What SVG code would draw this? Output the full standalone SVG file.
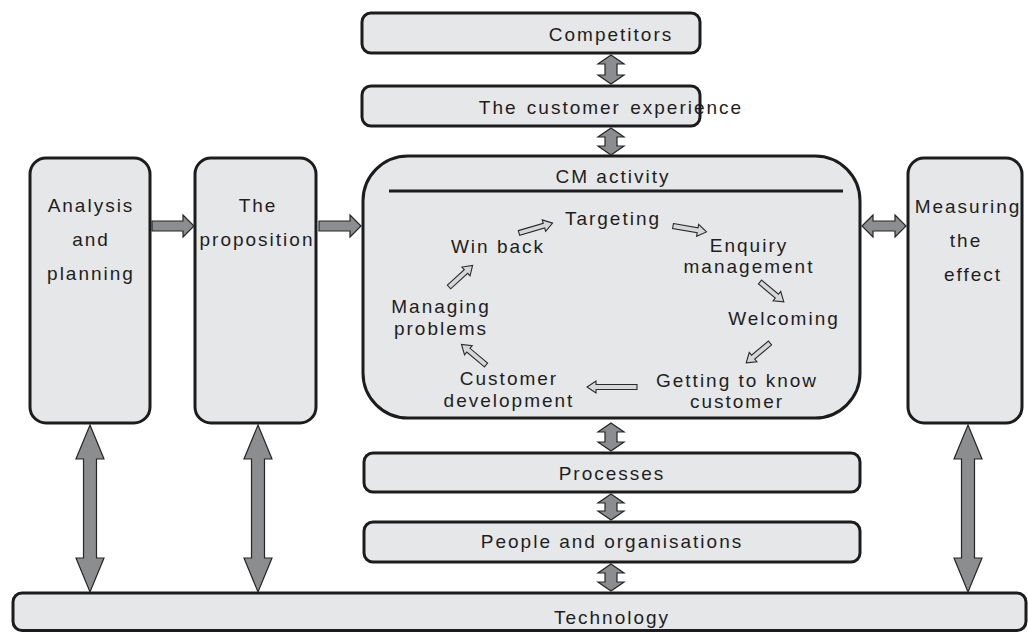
<svg xmlns="http://www.w3.org/2000/svg" width="1028" height="632" viewBox="0 0 1028 632">
  <style>
    .box { fill: #e6e7e9; stroke: #1c1c1c; stroke-width: 3; }
    .lbl { font-family: "Liberation Sans", Arial, sans-serif; font-size: 19px; letter-spacing: 2px; fill: #1e1e1e; text-anchor: middle; }
    .big { fill: #8c8d8f; stroke: #262626; stroke-width: 1.2; stroke-linejoin: miter; }
    .thin { fill: #d6d7d9; stroke: #2a2a2a; stroke-width: 1.1; }
  </style>
  <rect width="1028" height="632" fill="#ffffff"/>

  <!-- top stack -->
  <g id="competitors">
    <rect class="box" x="362" y="13" width="338" height="40" rx="9"/>
    <text class="lbl" x="611" y="41">Competitors</text>
  </g>
  <g id="customer-experience">
    <rect class="box" x="362" y="86" width="338" height="40" rx="9"/>
    <text class="lbl" x="611" y="114" word-spacing="2">The customer experience</text>
  </g>

  <!-- side columns -->
  <g id="analysis">
    <rect class="box" x="30" y="158" width="120" height="265" rx="16"/>
    <text class="lbl" x="91" y="212">Analysis</text>
    <text class="lbl" x="91" y="246">and</text>
    <text class="lbl" x="91" y="280">planning</text>
  </g>
  <g id="proposition">
    <rect class="box" x="195" y="158" width="121" height="265" rx="16"/>
    <text class="lbl" x="258" y="212">The</text>
    <text class="lbl" x="257" y="246">proposition</text>
  </g>
  <g id="measuring">
    <rect class="box" x="908" y="158" width="114" height="265" rx="16"/>
    <text class="lbl" x="968" y="213">Measuring</text>
    <text class="lbl" x="966" y="247">the</text>
    <text class="lbl" x="973" y="281">effect</text>
  </g>

  <!-- central activity cycle -->
  <g id="cm-activity">
    <rect class="box" x="363" y="156" width="497" height="262" rx="45"/>
    <text class="lbl" x="613" y="183">CM activity</text>
    <line x1="389" y1="191" x2="843" y2="191" stroke="#1c1c1c" stroke-width="3"/>
  </g>
  <g id="targeting"><text class="lbl" x="613" y="225">Targeting</text></g>
  <g id="enquiry"><text class="lbl" x="749" y="252">Enquiry</text><text class="lbl" x="749" y="273">management</text></g>
  <g id="welcoming"><text class="lbl" x="784" y="325">Welcoming</text></g>
  <g id="getting-to-know"><text class="lbl" x="737" y="387">Getting to know</text><text class="lbl" x="737" y="408">customer</text></g>
  <g id="development"><text class="lbl" x="509" y="385">Customer</text><text class="lbl" x="509" y="407">development</text></g>
  <g id="problems"><text class="lbl" x="441" y="313">Managing</text><text class="lbl" x="441" y="335">problems</text></g>
  <g id="win-back"><text class="lbl" x="498" y="253">Win back</text></g>

  <!-- bottom stack -->
  <g id="processes">
    <rect class="box" x="364" y="453" width="496" height="39" rx="9"/>
    <text class="lbl" x="612" y="480">Processes</text>
  </g>
  <g id="people">
    <rect class="box" x="364" y="522" width="496" height="40" rx="9"/>
    <text class="lbl" x="612" y="548">People and organisations</text>
  </g>
  <g id="technology">
    <rect class="box" x="13" y="593" width="1013" height="37.5" rx="9"/>
    <text class="lbl" x="612" y="624">Technology</text>
  </g>

  <g id="connectors">
    <!-- vertical double arrows in the centre stack -->
    <path class="big" d="M611,55 L624,64 H617 V75 H624 L611,84 L598,75 H605 V64 H598 Z"/>
    <path class="big" d="M611,128 L624,137 H617 V146 H624 L611,155 L598,146 H605 V137 H598 Z"/>
    <path class="big" d="M611,423 L624,432 H617 V442 H624 L611,451 L598,442 H605 V432 H598 Z"/>
    <path class="big" d="M611,494 L624,503 H617 V511 H624 L611,520 L598,511 H605 V503 H598 Z"/>
    <path class="big" d="M611,564 L624,573 H617 V582 H624 L611,591 L598,582 H605 V573 H598 Z"/>

    <!-- long double arrows down to technology -->
    <path class="big" d="M90,425 L104,459 H96.5 V558 H104 L90,592 L76,558 H83.5 V459 H76 Z"/>
    <path class="big" d="M258,425 L272,459 H264.5 V558 H272 L258,592 L244,558 H251.5 V459 H244 Z"/>
    <path class="big" d="M968,425 L982,459 H974.5 V558 H982 L968,592 L954,558 H961.5 V459 H954 Z"/>

    <!-- horizontal arrows -->
    <path class="big" d="M152,221 H183 V215 L194,226 L183,237 V231 H152 Z"/>
    <path class="big" d="M319,221 H350 V215 L361,226 L350,237 V231 H319 Z"/>
    <path class="big" d="M862,226 L873,215 V221 H895 V215 L906,226 L895,237 V231 H873 V237 Z"/>

    <!-- cycle arrows -->
    <path class="thin" transform="translate(519,233) rotate(-16.4)" d="M0,-2.5 H26 V-6 L35,0 L26,6 V2.5 H0 Z"/>
    <path class="thin" transform="translate(673,226) rotate(10)" d="M0,-2.5 H25 V-6 L34,0 L25,6 V2.5 H0 Z"/>
    <path class="thin" transform="translate(760,282) rotate(39.8)" d="M0,-2.5 H22 V-6 L31,0 L22,6 V2.5 H0 Z"/>
    <path class="thin" transform="translate(770,343) rotate(140.2)" d="M0,-2.5 H22 V-6 L31,0 L22,6 V2.5 H0 Z"/>
    <path class="thin" transform="translate(637,387) rotate(180)" d="M0,-2.5 H41 V-6 L50,0 L41,6 V2.5 H0 Z"/>
    <path class="thin" transform="translate(486,365) rotate(220)" d="M0,-2.5 H23 V-6 L32,0 L23,6 V2.5 H0 Z"/>
    <path class="thin" transform="translate(449,287) rotate(-42.5)" d="M0,-2.5 H23 V-6 L32,0 L23,6 V2.5 H0 Z"/>
  </g>
</svg>
